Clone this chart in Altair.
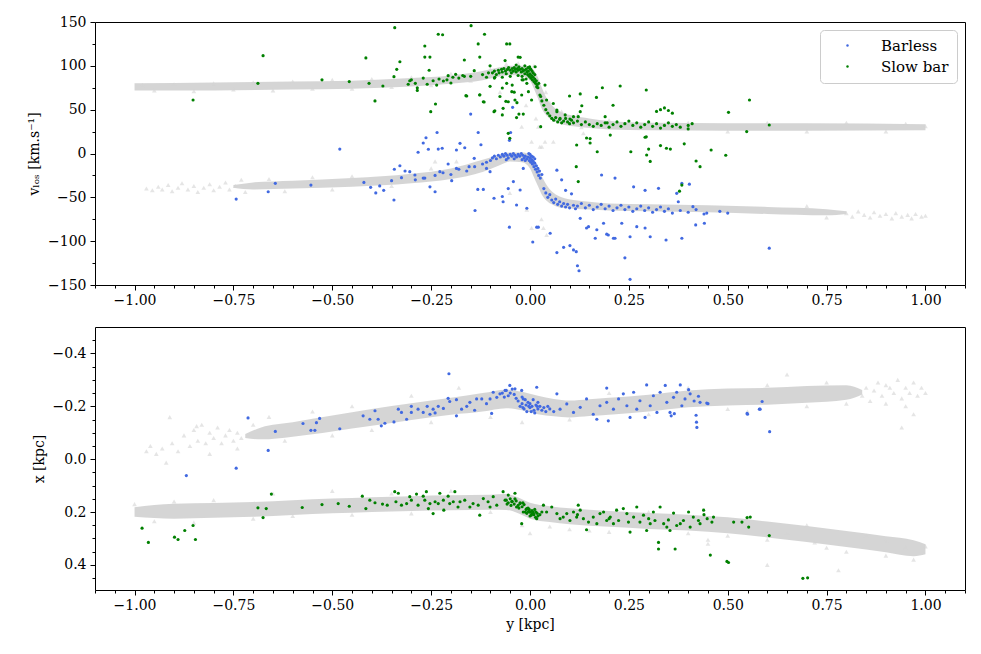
import altair as alt
import pandas as pd

# ---------------- data ----------------
# Top panel: gray model bands (y [kpc], lower v, upper v)
top_slow_band_y = [-1.0, -0.8, -0.6, -0.45, -0.3, -0.2, -0.12, -0.08, -0.05, -0.02, 0.0, 0.01, 0.02, 0.03, 0.045, 0.06, 0.08, 0.11, 0.15, 0.2, 0.3, 0.5, 0.7, 1.0]
top_slow_band_lo = [72, 72, 73, 74, 76.5, 79.5, 83.5, 87.5, 89.5, 88.5, 83, 74, 63, 51, 42, 37, 33.5, 31, 29, 27.5, 26.5, 26, 26, 26.5]
top_slow_band_hi = [80, 81, 82, 83, 86, 89, 94, 98, 100, 100, 99, 95, 87, 75, 61, 53, 47, 43, 40, 37, 35, 34.5, 34.5, 33.5]

top_barless_band_y = [-0.75, -0.7, -0.6, -0.45, -0.3, -0.2, -0.12, -0.08, -0.05, -0.02, 0.0, 0.01, 0.02, 0.03, 0.045, 0.06, 0.08, 0.11, 0.15, 0.2, 0.3, 0.45, 0.6, 0.75, 0.8]
top_barless_band_lo = [-39, -41, -40, -38, -34, -29, -21, -14, -9, -10, -17, -27, -37, -47, -55, -59, -62, -63, -64, -65, -66, -67, -69, -70.5, -69]
top_barless_band_hi = [-36, -33, -31, -28, -23, -17, -7, -2, 1, 1, -1, -7, -15, -26, -38, -45, -50, -53, -55, -57, -58, -59, -61, -63.5, -66]

top_gray_tri = [
    (-0.97, -40), (-0.955, -42), (-0.94, -38), (-0.93, -41), (-0.915, -36), (-0.905, -43), (-0.89, -39),
    (-0.88, -34), (-0.865, -41), (-0.85, -37), (-0.84, -44), (-0.825, -39), (-0.81, -35), (-0.8, -42),
    (-0.785, -38), (-0.77, -33), (-0.76, -41), (-0.745, -37), (-0.73, -30), (-0.72, -44), (-0.66, -29),
    (-0.62, -43), (-0.55, -27), (-0.5, -41), (-0.45, -26), (-0.35, -37), (-0.25, -17), (-0.24, -9),
    (-0.186, -9), (-0.051, -45), (-0.008, -64), (0.004, -85), (0.034, -85), (0.042, -93), (0.029, -75),
    (0.004, 13.5), (0.025, 7.8), (0.038, 13.5), (0.059, 13.5), (0.7, -60), (0.75, -73),
    (0.8, -68), (0.815, -72), (0.83, -66), (0.845, -70), (0.86, -73), (0.87, -67), (0.885, -71),
    (0.9, -69), (0.915, -74), (0.925, -68), (0.94, -72), (0.955, -70), (0.965, -74), (0.975, -69),
    (0.99, -72), (1.0, -71),
    (-0.98, 78), (-0.95, 72), (-0.9, 79), (-0.85, 71), (-0.8, 80), (-0.75, 73), (-0.7, 81), (-0.65, 72),
    (-0.6, 82), (-0.55, 74), (-0.5, 84), (-0.45, 74), (-0.4, 85), (-0.35, 76), (-0.3, 87), (-0.25, 78),
    (-0.2, 91), (-0.15, 83), (-0.1, 96), (-0.076, 70), (-0.021, 30.6), (0.021, 30.6), (0.03, 7.8),
    (0.13, 30), (0.135, 23), (0.05, 58), (0.08, 48), (0.12, 44), (0.2, 38), (0.3, 36), (0.4, 35),
    (0.5, 25), (0.6, 35), (0.7, 25), (0.8, 35), (0.9, 25), (1.0, 31), (0.95, 34), (-0.06, 102),
    (-0.03, 103), (0.01, 100), (0.04, 70), (-0.01, 55), (0.015, 40),
]

top_barless = [
    (-0.743, -52), (-0.644, -34), (-0.662, -43.6), (-0.554, -36), (-0.481, 5), (-0.403, -38.6), (-0.39, -45),
    (-0.38, -37), (-0.37, -42), (-0.344, -53), (-0.343, -18), (-0.329, -14), (-0.325, -27.6), (-0.316, -20),
    (-0.304, -20.7), (-0.291, -24.5), (-0.283, 1.4), (-0.27, 12), (-0.263, 18), (-0.257, 4.8), (-0.266, -28),
    (-0.253, -38), (-0.24, -43.6), (-0.235, 24), (-0.232, 5), (-0.222, 6), (-0.228, -20.7), (-0.207, -12),
    (-0.198, -31), (-0.186, -17), (-0.177, 11.6), (-0.165, 6.6), (-0.186, 4), (-0.154, -15), (-0.141, -5.5),
    (-0.131, 24), (-0.132, -41), (-0.124, 10), (-0.118, -41), (-0.15, 45), (-0.139, -65), (-0.101, -20.7),
    (-0.091, -51), (-0.07, -49), (-0.068, -55), (-0.055, -40), (-0.052, -84), (-0.049, 24), (-0.052, 15),
    (-0.044, 52.7), (-0.042, -32), (-0.034, -58.7), (-0.025, -41.6), (-0.017, -17), (-0.008, -62.5),
    (0.007, -101), (0.017, -84),
    (-0.29, -30), (-0.27, -28), (-0.24, -25), (-0.22, -22), (-0.2, -24), (-0.18, -18), (-0.16, -20),
    (-0.14, -15), (-0.12, -12), (-0.11, -17), (-0.42, -33), (-0.35, -31),
    (-0.1, -8), (-0.095, -5), (-0.09, -3), (-0.085, -6), (-0.08, -2), (-0.075, -4), (-0.07, -1), (-0.066, -3),
    (-0.062, 0), (-0.058, -2), (-0.055, -5), (-0.05, -1), (-0.046, -3), (-0.042, 0), (-0.038, -2), (-0.034, -4),
    (-0.03, -1), (-0.026, -3), (-0.022, 0), (-0.018, -2), (-0.015, -5), (-0.012, -3), (-0.008, -6), (-0.005, -4),
    (-0.002, -8), (0.0, -5), (0.002, -10), (0.004, -7), (0.006, -12), (0.008, -9), (0.01, -15), (0.012, -11),
    (0.014, -18), (0.016, -14), (0.018, -21), (0.02, -17), (0.022, -25), (0.024, -20), (0.026, -28), (0.03, -24),
    (-0.012, -8), (-0.02, -7), (-0.04, -6), (-0.06, -7), (-0.11, -10), (0.0, -1), (0.004, -3), (-0.003, 0),
    (0.008, -4), (0.012, -6),
    (0.068, -113), (0.101, -105), (0.11, -110), (0.117, -112), (0.124, -133.7), (0.127, -74), (0.148, -83.5),
    (0.169, -87), (0.186, -79.6), (0.198, -93), (0.211, -96.7), (0.232, -79.6), (0.253, -95), (0.27, -83.5),
    (0.291, -85), (0.304, -95), (0.344, -98.7), (0.384, -96.7), (0.419, -81.5), (0.24, -119), (0.253, -143.5),
    (0.181, -24.5), (0.215, -28), (0.262, -38), (0.291, -42), (0.325, -39.7), (0.371, -45.4), (0.403, -35),
    (0.068, -19), (0.08, -30), (0.09, -42), (0.105, -46), (0.384, -34), (0.051, -91), (0.021, -84),
    (0.143, -85), (0.165, -96.7), (0.194, -92), (0.215, -96.7), (0.441, -79.6), (0.447, -68), (0.605, -108),
    (0.375, -55), (0.412, -60.6), (0.085, -107), (0.12, -128),
    (0.035, -40), (0.04, -45), (0.045, -50), (0.05, -47), (0.055, -53), (0.06, -56), (0.065, -52), (0.07, -58),
    (0.075, -55), (0.08, -60), (0.085, -57), (0.09, -61), (0.095, -58), (0.1, -62), (0.11, -59), (0.115, -63),
    (0.12, -60), (0.13, -57), (0.14, -62), (0.15, -59), (0.16, -64), (0.17, -61), (0.18, -58), (0.19, -63),
    (0.2, -60), (0.21, -65), (0.22, -62), (0.23, -59), (0.24, -64), (0.25, -61), (0.26, -66), (0.27, -63),
    (0.28, -60), (0.29, -65), (0.3, -62), (0.31, -67), (0.32, -64), (0.33, -61), (0.34, -66), (0.35, -63),
    (0.36, -68), (0.38, -65), (0.4, -67), (0.42, -64), (0.44, -69), (0.48, -66), (0.5, -68),
]

top_slowbar = [
    (-0.852, 61), (-0.675, 111.6), (-0.688, 80), (-0.526, 84), (-0.457, 82), (-0.415, 109), (-0.407, 80),
    (-0.392, 60), (-0.372, 77), (-0.342, 143.5), (-0.337, 96), (-0.329, 104.7), (-0.344, 87.6), (-0.308, 79),
    (-0.304, 83), (-0.285, 75), (-0.285, 72), (-0.266, 122.6), (-0.266, 110), (-0.253, 110), (-0.26, 79),
    (-0.255, 95), (-0.251, 47.7), (-0.239, 56.5), (-0.232, 136), (-0.221, 135.5), (-0.236, 78), (-0.219, 82.7),
    (-0.207, 88.8), (-0.2, 80.4), (-0.188, 90.3), (-0.166, 106.7), (-0.166, 88), (-0.162, 66), (-0.149, 145.8),
    (-0.141, 94.5), (-0.131, 125), (-0.127, 67), (-0.127, 110), (-0.116, 58.7), (-0.115, 136), (-0.101, 76.6),
    (-0.091, 47.7), (-0.089, 87), (-0.07, 74.7), (-0.07, 44), (-0.063, 106), (-0.061, 59.5), (-0.059, 125),
    (-0.034, 41), (-0.028, 45), (-0.03, 110), (-0.033, 58), (-0.04, 70), (-0.045, 78),
    (-0.059, 80), (-0.046, 70.5), (-0.038, 61), (-0.021, 66.7), (-0.017, 84), (-0.004, 70.5), (0.004, 61),
    (-0.008, 80), (0.017, 76), (0.027, 65), (0.042, 61), (0.059, 57), (0.068, 49.6), (-0.076, 65),
    (-0.118, 59), (-0.127, 66.7), (-0.16, 65.6), (-0.089, 48.8), (-0.068, 51.5), (-0.055, 59), (-0.051, 17.3),
    (-0.055, 23), (-0.025, 109.7), (-0.051, 125), (-0.101, 100),
    (-0.3, 84), (-0.29, 80), (-0.27, 86), (-0.245, 83), (-0.23, 85), (-0.21, 84), (-0.195, 87), (-0.18, 86),
    (-0.17, 89), (-0.15, 88),
    (-0.095, 92), (-0.09, 94), (-0.085, 90), (-0.08, 95), (-0.078, 92), (-0.072, 96), (-0.07, 93), (-0.066, 97),
    (-0.062, 94), (-0.06, 91), (-0.057, 96), (-0.054, 98), (-0.05, 95), (-0.047, 92), (-0.045, 97), (-0.042, 94),
    (-0.04, 98), (-0.037, 96), (-0.035, 93), (-0.032, 97), (-0.03, 95), (-0.028, 99), (-0.025, 96), (-0.022, 93),
    (-0.02, 97), (-0.018, 94), (-0.015, 95), (-0.013, 91), (-0.01, 96), (-0.008, 93), (-0.006, 90), (-0.004, 94),
    (-0.002, 88), (0.0, 91), (0.002, 86), (0.004, 89), (0.006, 84), (0.008, 87), (0.01, 82), (0.012, 85),
    (0.014, 80), (0.016, 83), (0.018, 78), (0.02, 75), (0.022, 80), (-0.01, 85), (-0.02, 88), (-0.03, 89),
    (-0.05, 88), (-0.07, 87), (-0.09, 86), (-0.11, 87), (-0.12, 90), (-0.105, 92), (-0.013, 100), (-0.035, 101),
    (-0.005, 98), (0.0, 97), (0.005, 94), (0.002, 96), (-0.001, 99), (0.008, 92), (0.012, 90), (-0.02, 84),
    (0.013, 99), (-0.017, 45), (0.025, 66.7), (0.038, 78), (0.027, 30.6), (0.068, 47.7), (0.076, 40),
    (0.089, 44), (0.101, 39.4), (0.11, 42), (0.122, 42), (0.127, 47.7), (0.131, 54.5), (0.1, 65.6),
    (0.127, 68), (0.118, 9.7), (0.117, -15), (0.122, -32), (0.143, 17.7), (0.152, 12), (0.17, 2), (0.168, 64),
    (0.183, 75), (0.19, 42), (0.195, 35), (0.203, 21), (0.21, 55), (0.228, 77), (0.255, 2), (0.294, 72.4),
    (0.294, 19), (0.3, 5), (0.304, -9), (0.32, 48), (0.33, 50), (0.34, 52), (0.35, 49), (0.36, 46), (0.33, 9),
    (0.345, 6), (0.355, 5), (0.39, 11), (0.384, -36), (0.378, -43), (0.42, -8.6), (0.43, -15), (0.458, 4),
    (0.495, -2), (0.502, 47), (0.548, 25), (0.555, 61), (0.605, 32.5), (0.291, 18.5), (0.295, -1.7), (0.152, 17),
    (0.03, 60), (0.035, 55), (0.04, 50), (0.045, 46), (0.05, 43), (0.055, 40), (0.06, 38), (0.065, 41),
    (0.07, 36), (0.075, 39), (0.08, 35), (0.085, 37), (0.09, 40), (0.095, 36), (0.1, 34), (0.105, 38),
    (0.11, 35), (0.12, 37), (0.13, 33), (0.14, 36), (0.15, 33), (0.16, 31), (0.17, 34), (0.18, 32),
    (0.19, 35), (0.2, 30), (0.21, 33), (0.22, 36), (0.23, 31), (0.24, 34), (0.25, 37), (0.26, 32),
    (0.27, 35), (0.28, 30), (0.29, 33), (0.3, 36), (0.31, 31), (0.32, 34), (0.33, 29), (0.34, 32),
    (0.35, 35), (0.36, 31), (0.37, 33), (0.38, 30), (0.4, 32), (0.41, 34), (0.4, 28),
]

# Bottom panel: gray model bands (y [kpc], lower x, upper x)
bot_barless_band_y = [-0.72, -0.68, -0.6, -0.5, -0.4, -0.3, -0.2, -0.12, -0.06, -0.02, 0.02, 0.06, 0.1, 0.15, 0.2, 0.3, 0.4, 0.5, 0.6, 0.7, 0.8, 0.84]
bot_barless_band_lo = [-0.095, -0.12, -0.14, -0.165, -0.19, -0.212, -0.232, -0.25, -0.263, -0.255, -0.24, -0.228, -0.222, -0.227, -0.232, -0.244, -0.26, -0.267, -0.27, -0.277, -0.28, -0.262]
bot_barless_band_hi = [-0.08, -0.075, -0.085, -0.105, -0.126, -0.148, -0.168, -0.18, -0.193, -0.185, -0.17, -0.162, -0.158, -0.163, -0.168, -0.18, -0.196, -0.203, -0.206, -0.213, -0.225, -0.245]

bot_slow_band_y = [-1.0, -0.9, -0.8, -0.7, -0.6, -0.5, -0.4, -0.3, -0.2, -0.1, -0.06, -0.03, 0.0, 0.05, 0.1, 0.2, 0.3, 0.4, 0.5, 0.6, 0.7, 0.8, 0.9, 0.97, 1.0]
bot_slow_band_lo = [0.182, 0.169, 0.166, 0.162, 0.155, 0.149, 0.144, 0.14, 0.137, 0.135, 0.132, 0.145, 0.165, 0.178, 0.186, 0.196, 0.204, 0.21, 0.22, 0.236, 0.253, 0.272, 0.292, 0.307, 0.322]
bot_slow_band_hi = [0.218, 0.225, 0.222, 0.218, 0.211, 0.205, 0.2, 0.196, 0.193, 0.191, 0.192, 0.205, 0.225, 0.238, 0.246, 0.256, 0.264, 0.27, 0.28, 0.296, 0.313, 0.332, 0.352, 0.367, 0.36]

bot_gray_tri = [
    (-0.97, -0.03), (-0.96, -0.05), (-0.945, -0.02), (-0.93, -0.04), (-0.92, 0.013), (-0.911, -0.159),
    (-0.905, -0.06), (-0.89, -0.03), (-0.875, -0.09), (-0.86, -0.05), (-0.85, -0.11), (-0.843, -0.125),
    (-0.84, -0.07), (-0.83, -0.13), (-0.82, -0.06), (-0.81, -0.1), (-0.8, -0.08), (-0.79, -0.12),
    (-0.78, -0.06), (-0.77, -0.09), (-0.76, -0.11), (-0.75, -0.07), (-0.74, -0.1), (-0.73, -0.08),
    (-0.74, -0.04), (-0.81, -0.02), (-0.7, -0.13), (-0.66, -0.16), (-0.62, -0.07), (-0.55, -0.18),
    (-0.5, -0.09), (-0.45, -0.2), (-0.4, -0.11), (-0.3, -0.24), (-0.25, -0.14), (-0.18, -0.27),
    (-0.1, -0.16), (-0.02, -0.14), (0.1, -0.15), (0.2, -0.25), (0.3, -0.17), (0.4, -0.27), (0.5, -0.19),
    (0.55, -0.18), (0.6, -0.28), (0.65, -0.32), (0.7, -0.2), (0.75, -0.29), (0.8, -0.21),
    (0.84, -0.24), (0.85, -0.27), (0.86, -0.22), (0.87, -0.26), (0.88, -0.29), (0.89, -0.24), (0.9, -0.21),
    (0.91, -0.27), (0.92, -0.25), (0.93, -0.3), (0.94, -0.23), (0.95, -0.27), (0.96, -0.25), (0.97, -0.29),
    (0.98, -0.24), (0.99, -0.27), (1.0, -0.25), (0.95, -0.2), (0.94, -0.12), (0.97, -0.17), (0.9, -0.28),
    (-1.0, 0.17), (-0.95, 0.235), (-0.9, 0.16), (-0.85, 0.24), (-0.8, 0.155), (-0.7, 0.225), (-0.65, 0.13),
    (-0.6, 0.215), (-0.5, 0.12), (-0.45, 0.21), (-0.35, 0.13), (-0.3, 0.205), (-0.2, 0.12), (-0.1, 0.2),
    (-0.02, 0.25), (0.0, 0.28), (0.05, 0.255), (0.1, 0.265), (0.15, 0.27), (0.2, 0.275), (0.3, 0.2),
    (0.4, 0.28), (0.45, 0.305), (0.5, 0.29), (0.55, 0.22), (0.6, 0.305), (0.65, 0.28), (0.7, 0.25),
    (0.72, 0.315), (0.75, 0.335), (0.8, 0.35), (0.85, 0.29), (0.9, 0.365), (0.95, 0.335), (0.97, 0.38),
    (1.0, 0.33), (0.9, 0.31), (0.6, 0.4), (0.45, 0.32), (0.78, 0.42),
]

bot_barless = [
    (-0.869, 0.062), (-0.743, 0.034), (-0.662, -0.033), (-0.713, -0.156), (-0.644, -0.105), (-0.574, -0.135),
    (-0.554, -0.109), (-0.544, -0.109), (-0.54, -0.138), (-0.532, -0.154), (-0.481, -0.115),
    (-0.422, -0.164), (-0.405, -0.151), (-0.392, -0.183), (-0.384, -0.151), (-0.376, -0.126), (-0.367, -0.136),
    (-0.344, -0.141), (-0.333, -0.189), (-0.325, -0.177), (-0.312, -0.151), (-0.3, -0.177), (-0.283, -0.189),
    (-0.27, -0.177), (-0.253, -0.17), (-0.245, -0.189), (-0.232, -0.2), (-0.219, -0.192), (-0.207, -0.23),
    (-0.203, -0.218), (-0.186, -0.225), (-0.186, -0.164), (-0.173, -0.189), (-0.152, -0.215), (-0.135, -0.228),
    (-0.122, -0.228), (-0.101, -0.228), (-0.093, -0.253), (-0.084, -0.234), (-0.076, -0.247), (-0.063, -0.26),
    (-0.051, -0.279), (-0.038, -0.266), (-0.021, -0.26), (-0.017, -0.228), (-0.205, -0.323), (-0.097, -0.173),
    (-0.3, -0.2), (-0.26, -0.2), (-0.24, -0.175), (-0.16, -0.2), (-0.14, -0.185), (-0.11, -0.21),
    (-0.03, -0.22), (-0.025, -0.2), (-0.02, -0.21), (-0.015, -0.19), (-0.01, -0.205), (-0.005, -0.215),
    (0.0, -0.195), (0.005, -0.2), (0.01, -0.185), (0.015, -0.205), (0.02, -0.19), (0.025, -0.2), (0.03, -0.185),
    (-0.012, -0.225), (0.0, -0.21), (0.008, -0.225), (0.012, -0.175), (-0.008, -0.18), (0.02, -0.215),
    (-0.02, -0.235), (0.035, -0.195), (0.04, -0.18), (0.045, -0.2), (0.05, -0.19), (-0.05, -0.25),
    (-0.055, -0.24), (-0.045, -0.265), (-0.04, -0.245), (-0.06, -0.26), (-0.065, -0.235), (-0.035, -0.23),
    (-0.07, -0.25), (0.06, -0.18), (0.003, -0.18), (-0.003, -0.2), (0.018, -0.2), (-0.018, -0.195),
    (0.017, -0.272), (0.068, -0.247), (0.194, -0.269), (0.295, -0.281), (0.342, -0.279), (0.38, -0.281),
    (0.401, -0.263), (0.415, -0.22), (0.43, -0.215), (0.45, -0.21), (0.42, -0.166), (0.421, -0.14),
    (0.422, -0.12), (0.354, -0.177), (0.357, -0.164), (0.549, -0.173), (0.58, -0.189),
    (0.076, -0.189), (0.093, -0.209), (0.11, -0.177), (0.127, -0.196), (0.143, -0.228), (0.16, -0.17),
    (0.169, -0.151), (0.177, -0.202), (0.194, -0.215), (0.198, -0.145), (0.211, -0.189), (0.224, -0.228),
    (0.236, -0.247), (0.245, -0.202), (0.253, -0.158), (0.262, -0.253), (0.27, -0.189), (0.278, -0.221),
    (0.291, -0.158), (0.304, -0.202), (0.312, -0.24), (0.321, -0.177), (0.329, -0.253), (0.346, -0.215),
    (0.363, -0.234), (0.371, -0.253), (0.384, -0.202), (0.392, -0.228), (0.405, -0.247), (0.426, -0.238),
    (0.447, -0.212), (0.587, -0.218), (0.582, -0.189), (0.55, -0.17), (0.606, -0.104), (0.365, -0.172),
]

bot_slowbar = [
    (-0.981, 0.261), (-0.965, 0.315), (-0.899, 0.295), (-0.89, 0.304), (-0.873, 0.27), (-0.852, 0.251),
    (-0.846, 0.304), (-0.688, 0.184), (-0.675, 0.221), (-0.667, 0.187), (-0.654, 0.132), (-0.576, 0.183),
    (-0.526, 0.172), (-0.485, 0.168), (-0.457, 0.178),
    (-0.424, 0.14), (-0.415, 0.187), (-0.405, 0.155), (-0.392, 0.165), (-0.373, 0.17), (-0.361, 0.174),
    (-0.342, 0.123), (-0.339, 0.161), (-0.333, 0.129), (-0.325, 0.174), (-0.312, 0.168), (-0.304, 0.142),
    (-0.3, 0.155), (-0.287, 0.132), (-0.283, 0.174), (-0.27, 0.14), (-0.262, 0.123), (-0.266, 0.155),
    (-0.257, 0.187), (-0.253, 0.168), (-0.245, 0.206), (-0.24, 0.161), (-0.232, 0.168), (-0.228, 0.129),
    (-0.219, 0.155), (-0.218, 0.193), (-0.207, 0.14), (-0.203, 0.168), (-0.194, 0.161), (-0.19, 0.123),
    (-0.182, 0.181), (-0.177, 0.161), (-0.165, 0.155), (-0.152, 0.181), (-0.144, 0.168), (-0.131, 0.174),
    (-0.127, 0.212), (-0.118, 0.149), (-0.106, 0.161), (-0.101, 0.181), (-0.093, 0.142), (-0.084, 0.174),
    (-0.068, 0.123), (-0.063, 0.155), (-0.055, 0.136), (-0.046, 0.161), (-0.038, 0.129), (-0.034, 0.181),
    (-0.025, 0.168), (-0.017, 0.2), (-0.021, 0.244), (-0.008, 0.187), (0.0, 0.2), (0.008, 0.206), (0.017, 0.225),
    (-0.06, 0.155), (-0.055, 0.165), (-0.05, 0.15), (-0.045, 0.16), (-0.04, 0.17), (-0.035, 0.158),
    (-0.03, 0.175), (-0.025, 0.165), (-0.02, 0.18), (-0.015, 0.172), (-0.01, 0.19), (-0.005, 0.185),
    (0.0, 0.2), (0.005, 0.195), (0.01, 0.21), (0.015, 0.2), (0.02, 0.215), (-0.008, 0.205), (0.003, 0.212),
    (-0.002, 0.19), (0.008, 0.2), (0.012, 0.19), (0.018, 0.205), (0.025, 0.21), (0.03, 0.2), (-0.012, 0.2),
    (-0.018, 0.165), (-0.028, 0.185), (-0.038, 0.15), (-0.048, 0.175), (-0.058, 0.17), (0.0, 0.215),
    (0.006, 0.205), (-0.004, 0.198), (0.014, 0.22),
    (0.034, 0.174), (0.042, 0.2), (0.055, 0.181), (0.068, 0.206), (0.076, 0.225), (0.084, 0.219),
    (0.093, 0.206), (0.101, 0.232), (0.11, 0.2), (0.118, 0.219), (0.122, 0.174), (0.127, 0.193),
    (0.135, 0.225), (0.143, 0.267), (0.148, 0.238), (0.16, 0.219), (0.169, 0.244), (0.177, 0.206),
    (0.186, 0.2), (0.194, 0.232), (0.203, 0.219), (0.211, 0.244), (0.219, 0.193), (0.224, 0.232),
    (0.236, 0.187), (0.245, 0.206), (0.249, 0.238), (0.253, 0.276), (0.262, 0.219), (0.27, 0.181),
    (0.278, 0.238), (0.287, 0.212), (0.295, 0.27), (0.304, 0.244), (0.312, 0.2), (0.316, 0.232),
    (0.325, 0.315), (0.325, 0.34), (0.329, 0.181), (0.338, 0.244), (0.346, 0.257), (0.354, 0.27),
    (0.363, 0.204), (0.367, 0.34), (0.371, 0.251), (0.38, 0.244), (0.388, 0.232), (0.401, 0.2),
    (0.405, 0.257), (0.413, 0.219), (0.426, 0.232), (0.43, 0.244), (0.439, 0.193), (0.456, 0.363),
    (0.46, 0.238), (0.464, 0.219), (0.498, 0.387), (0.502, 0.391), (0.515, 0.238), (0.536, 0.238),
    (0.549, 0.221), (0.553, 0.257), (0.557, 0.219), (0.605, 0.289), (0.69, 0.451), (0.702, 0.449),
    (0.44, 0.21), (0.448, 0.225), (0.12, 0.21), (0.2, 0.225), (0.3, 0.225), (0.35, 0.23),
]

# ---------------- axis tick values ----------------
x_ticks = [round(k * 0.05, 2) for k in range(-22, 23)]
top_v_ticks = [k * 25 for k in range(-6, 7)]
bot_x_ticks = [round(k * 0.05, 2) for k in range(-9, 10)]

SERIF = "DejaVu Serif"
COLORS = ["#4169e1", "#008000"]
GRAY = "#d3d3d3"

x_scale = alt.Scale(domain=[-1.1, 1.1], nice=False, zero=False)

COMMON_AXIS = dict(
    grid=False, domain=False, labelOverlap=False, labelFlush=False,
    tickColor="black", labelColor="black", titleColor="black",
    labelFont=SERIF, labelFontSize=14, titleFont=SERIF, titleFontSize=14,
    titleFontWeight="normal",
)


def x_axis(show_title):
    test = "abs(datum.value*4 - round(datum.value*4)) < 0.001"
    return alt.Axis(
        values=x_ticks, tickCount=len(x_ticks),
        labelExpr=test + " ? format(datum.value, '.2f') : ''",
        tickSize={"condition": {"test": test, "value": 5}, "value": 3},
        title="y [kpc]" if show_title else "",
        labelPadding=3, titlePadding=5, **COMMON_AXIS,
    )


def band_df(ys, lo, hi):
    return pd.DataFrame({"yk": ys, "lo": lo, "hi": hi})


def pts_df(pairs, label):
    return pd.DataFrame({"yk": [p[0] for p in pairs], "v": [p[1] for p in pairs], "model": label})


def band_layer(df, vscale, vaxis, xaxis):
    return alt.Chart(df).mark_area(color=GRAY, opacity=0.95, interpolate="monotone").encode(
        x=alt.X("yk:Q", scale=x_scale, axis=xaxis),
        y=alt.Y("lo:Q", scale=vscale, axis=vaxis),
        y2="hi:Q",
    )


def tri_layer(pairs, vscale):
    return alt.Chart(pts_df(pairs, "model")).mark_point(
        shape="triangle-up", filled=True, color=GRAY, size=22, opacity=0.6
    ).encode(x=alt.X("yk:Q", scale=x_scale), y=alt.Y("v:Q", scale=vscale))


def obs_layer(pairs_b, pairs_s, vscale, legend):
    df = pd.concat([pts_df(pairs_b, "Barless"), pts_df(pairs_s, "Slow bar")], ignore_index=True)
    return alt.Chart(df).mark_circle(size=10, opacity=1).encode(
        x=alt.X("yk:Q", scale=x_scale),
        y=alt.Y("v:Q", scale=vscale),
        color=alt.Color("model:N", scale=alt.Scale(domain=["Barless", "Slow bar"], range=COLORS), legend=legend),
    )


# ---------------- top panel ----------------
top_v_scale = alt.Scale(domain=[-150, 150], nice=False, zero=False)
top_v_axis = alt.Axis(
    values=top_v_ticks, tickCount=len(top_v_ticks),
    labelExpr="datum.value % 50 == 0 ? format(datum.value, 'd') : ''",
    tickSize={"condition": {"test": "datum.value % 50 == 0", "value": 5}, "value": 3},
    title="vₗₒₛ [km.s⁻¹]", labelPadding=4, titlePadding=6, **COMMON_AXIS,
)

top_legend = alt.Legend(
    title=None, orient="top-right", offset=8, fillColor="white", strokeColor="#cccccc",
    cornerRadius=4, padding=8, symbolType="circle", symbolSize=6, symbolOffset=12,
    labelFont=SERIF, labelFontSize=15, labelColor="black", labelOffset=26, rowPadding=5,
)

top = alt.layer(
    band_layer(band_df(top_slow_band_y, top_slow_band_lo, top_slow_band_hi), top_v_scale, top_v_axis, x_axis(False)),
    band_layer(band_df(top_barless_band_y, top_barless_band_lo, top_barless_band_hi), top_v_scale, top_v_axis, x_axis(False)),
    tri_layer(top_gray_tri, top_v_scale),
    obs_layer(top_barless, top_slowbar, top_v_scale, top_legend),
).properties(width=870, height=263)

# ---------------- bottom panel ----------------
bot_x_scale = alt.Scale(domain=[-0.5, 0.495], nice=False, zero=False, reverse=True)
bot_test = "abs(datum.value*5 - round(datum.value*5)) < 0.001"
bot_x_axis = alt.Axis(
    values=bot_x_ticks, tickCount=len(bot_x_ticks),
    labelExpr=bot_test + " ? format(datum.value, '.1f') : ''",
    tickSize={"condition": {"test": bot_test, "value": 5}, "value": 3},
    title="x [kpc]", labelPadding=4, titlePadding=6, **COMMON_AXIS,
)

bottom = alt.layer(
    band_layer(band_df(bot_barless_band_y, bot_barless_band_lo, bot_barless_band_hi), bot_x_scale, bot_x_axis, x_axis(True)),
    band_layer(band_df(bot_slow_band_y, bot_slow_band_lo, bot_slow_band_hi), bot_x_scale, bot_x_axis, x_axis(True)),
    tri_layer(bot_gray_tri, bot_x_scale),
    obs_layer(bot_barless, bot_slowbar, bot_x_scale, None),
).properties(width=870, height=263)

chart = alt.vconcat(top, bottom, spacing=18).resolve_scale(
    color="independent", y="independent"
).configure_view(stroke="black", strokeWidth=1).properties(
    padding={"left": 19, "top": 6, "right": 5, "bottom": 5}, background="white"
)

chart.save("out.html", embed_options={"renderer": "svg", "actions": False})
